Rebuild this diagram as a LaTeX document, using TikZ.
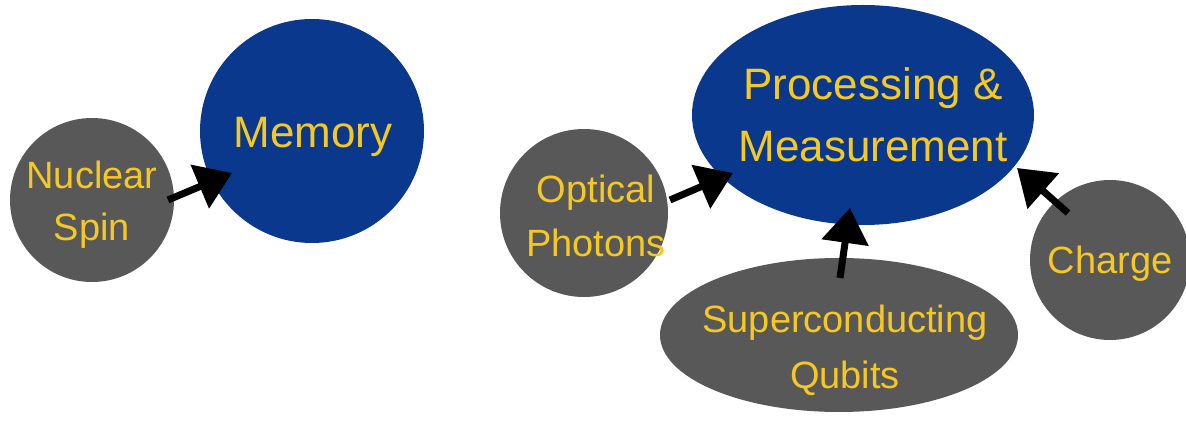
\documentclass[tikz,border=0pt]{standalone}
\usepackage{fontspec}
\setmainfont{Liberation Sans}
\usetikzlibrary{shapes.geometric,arrows.meta,calc}
\definecolor{deepblue}{RGB}{10,56,140}
\definecolor{slate}{RGB}{88,88,88}
\definecolor{gold}{RGB}{245,200,35}
\tikzset{
  bubble/.style={circle,fill=slate,inner sep=0pt},
  oval/.style={ellipse,fill=slate,inner sep=0pt},
  core/.style={fill=deepblue,inner sep=0pt},
  small/.style={text=gold,inner sep=0pt,align=center,font=\fontsize{38}{52}\selectfont},
  big/.style={text=gold,inner sep=0pt,align=center,font=\fontsize{44}{62}\selectfont},
  arr/.style={line width=7pt,-{Triangle[length=35pt,width=46pt]}}
}
\begin{document}
\begin{tikzpicture}[x=1pt,y=1pt]
\useasboundingbox (0,0) rectangle (1186,423);
\clip (0,0) rectangle (1186,423);
% left group
\node[bubble,minimum size=164pt] (ns) at (92,223) {};
\node[core,circle,minimum size=224pt] (mem) at (312,292) {};
% right group
\node[core,ellipse,minimum width=342pt,minimum height=220pt] (proc) at (863,308) {};
\node[bubble,minimum size=168pt] (opt) at (584,210) {};
\node[oval,minimum width=358pt,minimum height=154pt] (sup) at (839,88) {};
\node[bubble,minimum size=160pt] (chg) at (1110,163) {};
% labels
\node[small] (nsT) at (92,218) {Nuclear\\Spin};
\node[big] (memT) at (313,286) {Memory};
\node[big] (procT) at (873,308) {Processing \&\\Measurement};
\node[small,font=\fontsize{38}{54}\selectfont] (optT) at (596,207) {Optical\\Photons};
\node[small,font=\fontsize{38}{56}\selectfont] (supT) at (845,73) {Superconducting\\Qubits};
\node[small] (chgT) at (1110,159) {Charge};
% connectors
\draw[arr] ($(ns.center)+(76,0)$) -- ($(mem.center)+(-80,-42)$);
\draw[arr] ($(opt.center)+(86,13)$) -- ($(proc.center)+(-130,-58)$);
\draw[arr] ($(sup.center)+(1,57)$) -- ($(proc.center)+(-13,-93)$);
\draw[arr] ($(chg.center)+(-42,47)$) -- ($(proc.center)+(154,-53)$);
\end{tikzpicture}
\end{document}
